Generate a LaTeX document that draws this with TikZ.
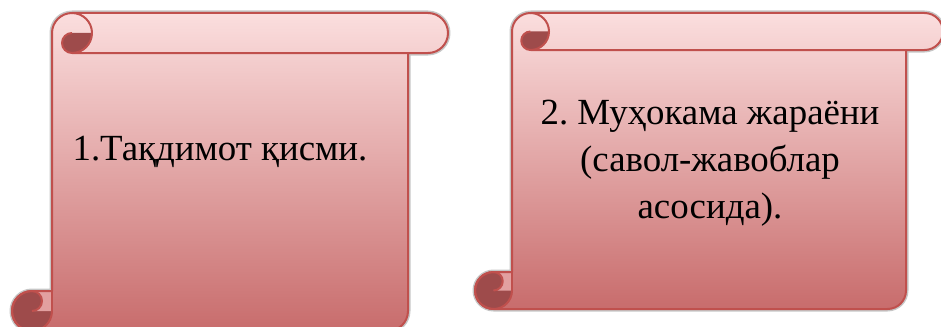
\documentclass[tikz,border=0pt]{standalone}
\usepackage{fontspec}
\setmainfont{Liberation Serif}
\usepackage{tikz}
\usetikzlibrary{positioning}

\definecolor{scrollline}{RGB}{192,80,77}
\definecolor{scrolltop}{RGB}{251,222,222}
\definecolor{scrollbottom}{RGB}{200,108,108}
\definecolor{scrolldark}{RGB}{158,75,75}
\definecolor{scrollend}{RGB}{226,160,160}

% vertical scroll: #1 left, #2 bottom, #3 right, #4 top, #5 roll height
\newcommand{\scrollshape}[5]{%
  \pgfmathsetmacro{\scrR}{#5/2}
  \pgfmathsetmacro{\scrQ}{#5/4}
  \pgfmathsetmacro{\scrXa}{#1+#5}
  \pgfmathsetmacro{\scrXb}{#3-#5}
  \pgfmathsetmacro{\scrYa}{#4-#5}
  % outline of the whole scroll
  \def\scrsil{({\scrXa+\scrR},#4) -- ({#3-\scrR},#4)
    arc[start angle=90, end angle=-90, radius=\scrR]
    -- (\scrXb,\scrYa) -- (\scrXb,{#2+\scrR})
    arc[start angle=0, end angle=-90, radius=\scrR]
    -- ({#1+\scrR},#2)
    arc[start angle=-90, end angle=-270, radius=\scrR]
    -- (\scrXa,{#2+#5}) -- (\scrXa,{#4-\scrR})
    arc[start angle=180, end angle=90, radius=\scrR] -- cycle}
  \draw[scrollglow] \scrsil;
  \shade[scrollfill] \scrsil;
  % curl at the top left
  \fill[scrolldark] ({\scrXa+\scrR},{#4-\scrR}) -- ({\scrXa+#5},{#4-\scrR})
    arc[start angle=0, end angle=-90, radius=\scrR]
    arc[start angle=-90, end angle=-270, radius=\scrQ] -- cycle;
  % curl at the bottom left
  \fill[scrolldark] ({#1+\scrR},{#2+\scrR}) circle[radius=\scrR];
  \fill[scrollend] ({#1+\scrR},{#2+\scrR}) -- (\scrXa,{#2+\scrR}) -- (\scrXa,{#2+#5})
    -- ({#1+\scrR},{#2+#5}) arc[start angle=90, end angle=-90, radius=\scrQ] -- cycle;
  % border lines
  \draw[scrollborder] \scrsil;
  \draw[scrollborder] ({\scrXa+\scrR},#4) arc[start angle=90, end angle=-90, radius=\scrR] -- (\scrXb,\scrYa);
  \draw[scrollborder] ({\scrXa+\scrR},{#4-\scrR}) arc[start angle=90, end angle=270, radius=\scrQ];
  \draw[scrollborder] ({#1+\scrR},{#2+#5}) arc[start angle=90, end angle=360, radius=\scrR];
  \draw[scrollborder] ({#1+\scrR},{#2+#5}) arc[start angle=90, end angle=-90, radius=\scrQ];
  \draw[scrollborder] (\scrXa,{#2+#5}) -- (\scrXa,{#2+\scrR});
}

\begin{document}
\frenchspacing
\begin{tikzpicture}[
    x=1bp, y=1bp,
    % styles for the two scrolls
    scrollglow/.style={draw=gray!45, line width=5bp, line join=round},
    scrollfill/.style={top color=scrolltop, bottom color=scrollbottom},
    scrollborder/.style={draw=scrollline, line width=2bp, line join=round},
    scrolltext/.style={font=\fontsize{37}{47}\selectfont, align=center, text=black, inner sep=0pt}
]
\useasboundingbox (0,0) rectangle (941,326);

% ========== SCROLL 1 ==========
\scrollshape{12}{-5}{448}{313}{40}
\node[scrolltext, anchor=base] (part1) at (220,166) {1.Тақдимот қисми.};

% ========== SCROLL 2 ==========
\scrollshape{475}{17}{943}{313}{37}
\node[scrolltext, anchor=center] (part2) at (710,163) {2. Муҳокама жараёни\\(савол-жавоблар\\асосида).};

\end{tikzpicture}
\end{document}
